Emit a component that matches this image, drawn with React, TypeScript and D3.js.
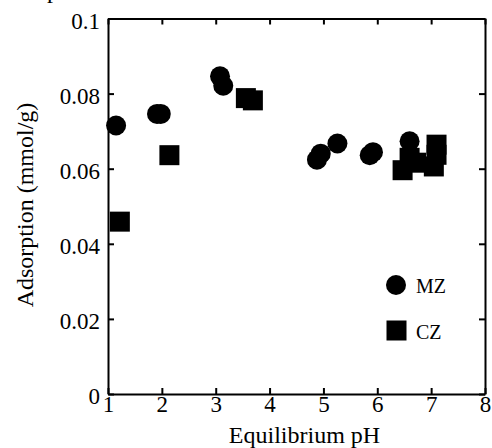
import React, { useRef, useEffect } from "react";
import * as d3 from "d3";

// MZ (circles)
const mzPH = [1.15, 1.91, 1.98, 3.08, 3.14, 4.88, 4.95, 5.26, 5.86, 5.92, 6.6];
const mzAds = [0.0715, 0.0746, 0.0746, 0.0846, 0.0821, 0.0624, 0.064, 0.0667, 0.0636, 0.0644, 0.0673];

// CZ (squares)
const czPH = [1.22, 2.14, 3.56, 3.69, 6.47, 6.6, 6.72, 7.05, 7.1, 7.1];
const czAds = [0.0459, 0.0636, 0.0788, 0.0782, 0.0596, 0.0629, 0.0616, 0.0606, 0.0664, 0.0637];

const xTicks = [1, 2, 3, 4, 5, 6, 7, 8];
const yTicks = [0, 0.02, 0.04, 0.06, 0.08, 0.1];
const yTickLabels = ["0", "0.02", "0.04", "0.06", "0.08", "0.1"];

export default function App() {
  const svgRef = useRef<SVGSVGElement>(null);

  useEffect(() => {
    const svg = d3.select(svgRef.current);
    svg.selectAll("*").remove();

    const width = 492;
    const height = 448;
    const margin = { top: 18.5, right: 7, bottom: 54, left: 108 };
    const font = "'Liberation Serif', 'Times New Roman', serif";

    const x = d3.scaleLinear().domain([1, 8]).range([margin.left, width - margin.right]);
    const y = d3.scaleLinear().domain([0, 0.1]).range([height - margin.bottom, margin.top]);

    // stray glyph cut off at the top edge, as in the source image
    svg.append("text")
      .attr("x", 47)
      .attr("y", -2)
      .style("font-family", font)
      .style("font-size", "24px")
      .text("p");

    const styleAxis = (g: any) => {
      g.selectAll("path, line").attr("stroke", "#000").attr("stroke-width", 2);
      g.selectAll("text").style("font-family", font).style("font-size", "23px").attr("fill", "#000");
    };

    svg.append("g")
      .attr("transform", `translate(0,${y(0)})`)
      .call(d3.axisBottom(x).tickValues(xTicks).tickFormat(d3.format("d")).tickSizeInner(-6).tickSizeOuter(0).tickPadding(2))
      .call(styleAxis);

    svg.append("g")
      .attr("transform", `translate(0,${y(0.1)})`)
      .call(d3.axisTop(x).tickValues(xTicks).tickFormat(() => "").tickSizeInner(-6).tickSizeOuter(0))
      .call(styleAxis);

    const yl = svg.append("g")
      .attr("transform", `translate(${x(1)},0)`)
      .call(d3.axisLeft(y).tickValues(yTicks).tickFormat((d, i) => yTickLabels[i]).tickSizeInner(-6).tickSizeOuter(0).tickPadding(8))
      .call(styleAxis);
    yl.selectAll("text").attr("dy", "0.42em");

    svg.append("g")
      .attr("transform", `translate(${x(8)},0)`)
      .call(d3.axisRight(y).tickValues(yTicks).tickFormat(() => "").tickSizeInner(-6).tickSizeOuter(0))
      .call(styleAxis);

    // MZ circles
    svg.append("g")
      .selectAll("circle")
      .data(mzPH.map((p, i) => ({ p, a: mzAds[i] })))
      .join("circle")
      .attr("cx", d => x(d.p))
      .attr("cy", d => y(d.a))
      .attr("r", 10)
      .attr("fill", "#000");

    // CZ squares
    svg.append("g")
      .selectAll("rect")
      .data(czPH.map((p, i) => ({ p, a: czAds[i] })))
      .join("rect")
      .attr("x", d => x(d.p) - 10)
      .attr("y", d => y(d.a) - 10)
      .attr("width", 20)
      .attr("height", 20)
      .attr("fill", "#000");

    // legend
    const legend = svg.append("g");
    legend.append("circle").attr("cx", 396).attr("cy", 285).attr("r", 10).attr("fill", "#000");
    legend.append("rect").attr("x", 386.5).attr("y", 320.5).attr("width", 20).attr("height", 20).attr("fill", "#000");
    legend.append("text").attr("x", 416).attr("y", 293)
      .style("font-family", font).style("font-size", "20px").text("MZ");
    legend.append("text").attr("x", 416).attr("y", 339)
      .style("font-family", font).style("font-size", "20px").text("CZ");

    // axis titles
    svg.append("text")
      .attr("x", (x(1) + x(8)) / 2 + 8)
      .attr("y", 443)
      .attr("text-anchor", "middle")
      .style("font-family", font)
      .style("font-size", "24px")
      .text("Equilibrium pH");

    svg.append("text")
      .attr("transform", "rotate(-90)")
      .attr("x", -205)
      .attr("y", 33)
      .attr("text-anchor", "middle")
      .style("font-family", font)
      .style("font-size", "24px")
      .text("Adsorption (mmol/g)");
  }, []);

  return (
    <svg
      ref={svgRef}
      width={492}
      height={448}
      style={{ position: "absolute", left: 0, top: 0, background: "#fff" }}
    />
  );
}
